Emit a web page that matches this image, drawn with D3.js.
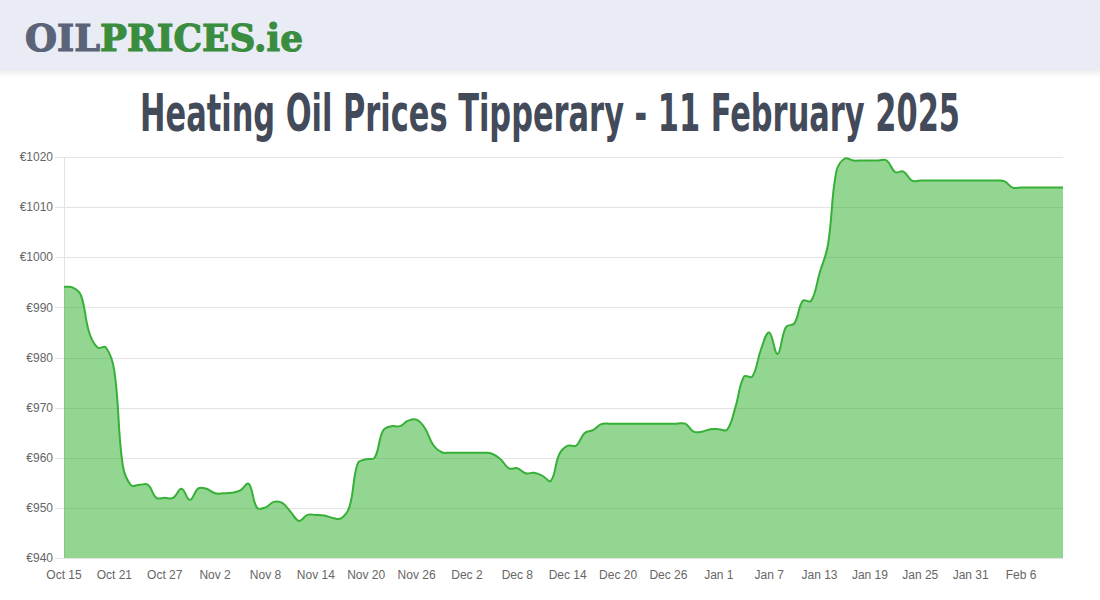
<!DOCTYPE html>
<html>
<head>
<meta charset="utf-8">
<script src="https://cdn.jsdelivr.net/npm/d3@7"></script>
<style>
  html, body { margin: 0; padding: 0; background: #ffffff; }
  svg { display: block; }
</style>
</head>
<body>
<svg id="chart" width="1100" height="600"></svg>
<script>
// ---- data ----
const titleText = "Heating Oil Prices Tipperary - 11 February 2025";
const yTicks = [940, 950, 960, 970, 980, 990, 1000, 1010, 1020];
const xTickIndex = [0, 6, 12, 18, 24, 30, 36, 42, 48, 54, 60, 66, 72, 78, 84, 90, 96, 102, 108, 114];
const xTickLabels = ["Oct 15", "Oct 21", "Oct 27", "Nov 2", "Nov 8", "Nov 14", "Nov 20", "Nov 26",
  "Dec 2", "Dec 8", "Dec 14", "Dec 20", "Dec 26", "Jan 1", "Jan 7", "Jan 13", "Jan 19", "Jan 25",
  "Jan 31", "Feb 6"];
// daily prices, Oct 15 2024 -> Feb 11 2025
const prices = [
  994.1, 994.0, 992.5, 985.0, 982.0, 982.0, 977.3, 958.5, 954.5, 954.6,
  954.6, 952.0, 952.0, 952.0, 953.8, 951.6, 953.9, 953.8, 952.9, 952.9,
  953.0, 953.5, 954.8, 950.0, 950.1, 951.2, 951.0, 949.2, 947.4, 948.6,
  948.6, 948.5, 948.0, 947.9, 950.2, 958.9, 959.7, 960.0, 965.4, 966.3,
  966.3, 967.4, 967.6, 965.9, 962.5, 961.1, 961.0, 961.0, 961.0, 961.0,
  961.0, 960.8, 959.7, 957.9, 957.9, 956.9, 957.0, 956.4, 955.4, 960.7,
  962.4, 962.4, 964.9, 965.5, 966.7, 966.8, 966.8, 966.8, 966.8, 966.8,
  966.8, 966.8, 966.8, 966.8, 966.8, 965.2, 965.2, 965.7, 965.7, 965.6,
  970.2, 976.2, 976.2, 981.5, 985.0, 980.7, 986.1, 986.8, 991.3, 991.3,
  996.8, 1002.5, 1017.1, 1019.7, 1019.3, 1019.3, 1019.3, 1019.3, 1019.3, 1017.0,
  1017.1, 1015.3, 1015.3, 1015.3, 1015.3, 1015.3, 1015.3, 1015.3, 1015.3, 1015.3,
  1015.3, 1015.3, 1015.2, 1013.9, 1013.9, 1013.9, 1013.9, 1013.9, 1013.9, 1013.9
];

// ---- layout ----
const svg = d3.select("#chart");
const W = 1100, H = 600;
const plot = { left: 64, right: 1063, top: 157, bottom: 558 };

// header band
const defs = svg.append("defs");
const grad = defs.append("linearGradient").attr("id", "shadow").attr("x1", 0).attr("y1", 0).attr("x2", 0).attr("y2", 1);
grad.append("stop").attr("offset", "0%").attr("stop-color", "#000").attr("stop-opacity", 0.07);
grad.append("stop").attr("offset", "100%").attr("stop-color", "#000").attr("stop-opacity", 0);
svg.append("rect").attr("x", 0).attr("y", 0).attr("width", W).attr("height", 70).attr("fill", "#e9ecf4");
svg.append("rect").attr("x", 0).attr("y", 70).attr("width", W).attr("height", 8).attr("fill", "url(#shadow)");

// logo
const logoFont = "'DejaVu Serif', serif";
svg.append("text").attr("x", 25).attr("y", 51)
  .attr("font-family", logoFont).attr("font-weight", 900).attr("font-size", 38)
  .attr("textLength", 75).attr("lengthAdjust", "spacingAndGlyphs")
  .attr("fill", "#5a6377").attr("stroke", "#5a6377").attr("stroke-width", 1.2).text("OIL");
svg.append("text").attr("x", 100).attr("y", 51)
  .attr("font-family", logoFont).attr("font-weight", 900).attr("font-size", 38)
  .attr("textLength", 203).attr("lengthAdjust", "spacingAndGlyphs")
  .attr("fill", "#3a8c3f").attr("stroke", "#3a8c3f").attr("stroke-width", 1.2).text("PRICES.ie");

// title (condensed look: horizontal font, vertically stretched)
svg.append("g").attr("transform", "translate(550,131) scale(1,1.36)")
  .append("text").attr("x", 0).attr("y", 0)
  .attr("text-anchor", "middle")
  .attr("font-family", "'Liberation Sans Narrow', 'DejaVu Sans Condensed', 'Roboto', sans-serif")
  .attr("font-weight", 700).attr("font-size", 38)
  .attr("textLength", 820).attr("lengthAdjust", "spacingAndGlyphs")
  .attr("fill", "#434a59").text(titleText);

// scales
const x = d3.scaleLinear().domain([0, prices.length - 1]).range([plot.left, plot.right]);
const y = d3.scaleLinear().domain([940, 1020]).range([plot.bottom, plot.top]);

// gridlines
const g = svg.append("g");
g.selectAll("line.grid").data(yTicks).join("line")
  .attr("class", "grid")
  .attr("x1", plot.left - 9).attr("x2", plot.right)
  .attr("y1", d => Math.round(y(d)) + 0.5).attr("y2", d => Math.round(y(d)) + 0.5)
  .attr("stroke", "#e3e3e3").attr("stroke-width", 1);
// left axis line
g.append("line").attr("x1", plot.left + 0.5).attr("x2", plot.left + 0.5)
  .attr("y1", plot.top).attr("y2", plot.bottom + 0.5)
  .attr("stroke", "#e3e3e3").attr("stroke-width", 1);

// y labels
g.selectAll("text.ylab").data(yTicks).join("text")
  .attr("class", "ylab")
  .attr("x", plot.left - 11).attr("y", d => y(d))
  .attr("dy", "0.35em").attr("text-anchor", "end")
  .attr("font-family", "'Liberation Sans', Arial, sans-serif").attr("font-size", 12)
  .attr("fill", "#666").text(d => "€" + d);

// x labels
g.selectAll("text.xlab").data(xTickIndex).join("text")
  .attr("class", "xlab")
  .attr("x", d => x(d)).attr("y", 579)
  .attr("text-anchor", "middle")
  .attr("font-family", "'Liberation Sans', Arial, sans-serif").attr("font-size", 12)
  .attr("fill", "#666").text((d, i) => xTickLabels[i]);

// Chart.js-style spline (tension 0.4) as a d3 curve
function ChartJsCurve(context) { this._context = context; this._t = 0.4; }
ChartJsCurve.prototype = {
  areaStart() { this._line = 0; },
  areaEnd() { this._line = NaN; },
  lineStart() { this._pts = []; },
  point(px, py) { this._pts.push([+px, +py]); },
  lineEnd() {
    const p = this._pts, n = p.length, c = this._context, t = this._t;
    if (n) {
      if (this._line) c.lineTo(p[0][0], p[0][1]); else c.moveTo(p[0][0], p[0][1]);
      const cps = p.map((cur, i) => {
        const prev = p[Math.max(i - 1, 0)], next = p[Math.min(i + 1, n - 1)];
        const d01 = Math.hypot(cur[0] - prev[0], cur[1] - prev[1]);
        const d12 = Math.hypot(next[0] - cur[0], next[1] - cur[1]);
        let s01 = d01 / (d01 + d12), s12 = d12 / (d01 + d12);
        if (isNaN(s01)) s01 = 0; if (isNaN(s12)) s12 = 0;
        const fa = t * s01, fb = t * s12;
        const clampY = v => Math.max(plot.top, Math.min(plot.bottom, v));
        return {
          px: cur[0] - fa * (next[0] - prev[0]), py: clampY(cur[1] - fa * (next[1] - prev[1])),
          nx: cur[0] + fb * (next[0] - prev[0]), ny: clampY(cur[1] + fb * (next[1] - prev[1]))
        };
      });
      for (let i = 1; i < n; i++) {
        c.bezierCurveTo(cps[i - 1].nx, cps[i - 1].ny, cps[i].px, cps[i].py, p[i][0], p[i][1]);
      }
    }
    if (this._line || (this._line !== 0 && n === 1)) c.closePath();
    this._line = 1 - this._line;
  }
};
const chartJsCurve = ctx => new ChartJsCurve(ctx);

const area = d3.area().x((d, i) => x(i)).y0(y(940)).y1(d => y(d)).curve(chartJsCurve);
const line = d3.line().x((d, i) => x(i)).y(d => y(d)).curve(chartJsCurve);

svg.append("path").datum(prices).attr("d", area)
  .attr("fill", "rgba(38,173,38,0.5)");
svg.append("path").datum(prices).attr("d", line)
  .attr("fill", "none").attr("stroke", "#36b036").attr("stroke-width", 2);
</script>
</body>
</html>
